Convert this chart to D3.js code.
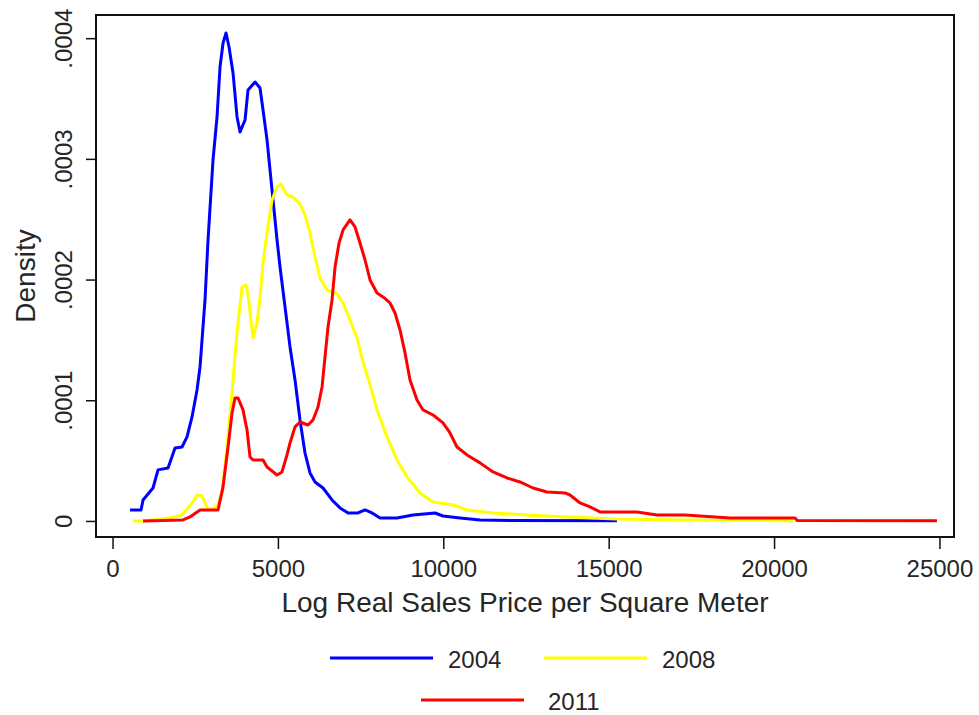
<!DOCTYPE html>
<html>

    <head>
        <script src="https://d3js.org/d3.v7.min.js"></script>
        <style>
            body { margin: 0; background: #fff; }
            text { font-family: "Liberation Sans", Arial, sans-serif; fill: #262626; }
        </style>
    </head>

    <body>
        <div id="chart-container"></div>

        <script>
            // Density values are read in units of .0001
            const UNIT = 0.0001;

            const years = [ "2004", "2008", "2011" ];
            const colors = [ "#0000ff", "#ffff00", "#ff0000" ];

            const price2004 = [ 529, 862, 922, 1224, 1375, 1678, 1889, 2101, 2252, 2403, 2554, 2645, 2706, 2796, 2887, 3038, 3159, 3250, 3341, 3431, 3522, 3643, 3764, 3855, 4006, 4096, 4308, 4459, 4550, 4671, 4761, 4852, 4973, 5064, 5200, 5366, 5517, 5668, 5819, 5970, 6122, 6364, 6636, 6878, 7120, 7422, 7634, 7845, 8087, 8601, 9084, 9749, 9991, 10505, 11110, 12107, 15250 ];
            const density2004 = [ 0.091, 0.091, 0.174, 0.273, 0.423, 0.439, 0.605, 0.613, 0.696, 0.862, 1.085, 1.276, 1.5, 1.831, 2.328, 2.991, 3.347, 3.761, 3.96, 4.043, 3.927, 3.712, 3.347, 3.223, 3.322, 3.571, 3.637, 3.587, 3.405, 3.157, 2.908, 2.659, 2.328, 2.104, 1.806, 1.442, 1.168, 0.837, 0.563, 0.398, 0.323, 0.273, 0.174, 0.108, 0.066, 0.066, 0.091, 0.066, 0.025, 0.025, 0.05, 0.066, 0.041, 0.025, 0.008, 0.003, 0.002 ];

            const price2008 = [ 620, 922, 1738, 2101, 2403, 2554, 2706, 2887, 3159, 3310, 3461, 3613, 3703, 3794, 3915, 4036, 4096, 4248, 4369, 4459, 4550, 4671, 4822, 4973, 5094, 5275, 5456, 5668, 5819, 5970, 6122, 6273, 6485, 6787, 6969, 7180, 7392, 7573, 7785, 7996, 8299, 8601, 8903, 9296, 9689, 10294, 10717, 11503, 12531, 13740, 15252, 17247, 20573 ];
            const density2008 = [ 0, 0, 0.025, 0.05, 0.149, 0.215, 0.207, 0.091, 0.116, 0.232, 0.613, 1.06, 1.375, 1.64, 1.939, 1.955, 1.872, 1.516, 1.64, 1.848, 2.138, 2.386, 2.659, 2.767, 2.792, 2.701, 2.684, 2.626, 2.535, 2.386, 2.187, 2.013, 1.914, 1.881, 1.806, 1.665, 1.516, 1.317, 1.127, 0.92, 0.696, 0.505, 0.365, 0.232, 0.157, 0.133, 0.091, 0.066, 0.05, 0.033, 0.017, 0.008, 0.002 ];

            const price2011 = [ 922, 2131, 2343, 2645, 3189, 3341, 3492, 3613, 3703, 3794, 3945, 4066, 4157, 4248, 4550, 4671, 4973, 5124, 5275, 5366, 5517, 5668, 5910, 6061, 6212, 6334, 6424, 6515, 6636, 6727, 6848, 6969, 7180, 7331, 7482, 7634, 7785, 7996, 8178, 8389, 8541, 8692, 8843, 8994, 9205, 9387, 9689, 9991, 10203, 10414, 10717, 11110, 11503, 11926, 12319, 12712, 13135, 13680, 13831, 14134, 14436, 14738, 15856, 16461, 17307, 18667, 20632, 20700, 24924 ];
            const density2011 = [ 0, 0.008, 0.033, 0.091, 0.091, 0.282, 0.613, 0.895, 1.019, 1.019, 0.92, 0.754, 0.53, 0.505, 0.505, 0.447, 0.381, 0.406, 0.547, 0.646, 0.779, 0.82, 0.795, 0.837, 0.944, 1.11, 1.359, 1.607, 1.831, 2.104, 2.303, 2.411, 2.494, 2.436, 2.303, 2.162, 1.997, 1.889, 1.856, 1.806, 1.723, 1.582, 1.392, 1.168, 1.002, 0.92, 0.878, 0.812, 0.729, 0.613, 0.547, 0.481, 0.406, 0.356, 0.323, 0.273, 0.24, 0.232, 0.215, 0.149, 0.116, 0.075, 0.075, 0.05, 0.05, 0.025, 0.025, 0.004, 0.002 ];

            const xTicks = [ 0, 5000, 10000, 15000, 20000, 25000 ];
            const yTicks = [ 0, 0.0001, 0.0002, 0.0003, 0.0004 ];
            const yTickLabels = [ "0", ".0001", ".0002", ".0003", ".0004" ];

            const xTitle = "Log Real Sales Price per Square Meter";
            const yTitle = "Density";

            // Chart dimensions
            const width = 979;
            const height = 715;
            const plot = { left: 96, top: 15, right: 954, bottom: 537 };

            const svg = d3.select( "#chart-container" )
                .append( "svg" )
                .attr( "width", width )
                .attr( "height", height );

            const xScale = d3.scaleLinear()
                .domain( [ -500, 25440 ] )
                .range( [ plot.left, plot.right ] );

            const yScale = d3.scaleLinear()
                .domain( [ -0.0000133, 0.0004192 ] )
                .range( [ plot.bottom, plot.top ] );

            // Series
            const series = [
                { year: years[ 0 ], color: colors[ 0 ], x: price2004, y: density2004 },
                { year: years[ 1 ], color: colors[ 1 ], x: price2008, y: density2008 },
                { year: years[ 2 ], color: colors[ 2 ], x: price2011, y: density2011 }
            ];

            const line = d3.line()
                .x( d => xScale( d[ 0 ] ) )
                .y( d => yScale( d[ 1 ] * UNIT ) );

            series.forEach( s =>
            {
                svg.append( "path" )
                    .datum( s.x.map( ( v, i ) => [ v, s.y[ i ] ] ) )
                    .attr( "fill", "none" )
                    .attr( "stroke", s.color )
                    .attr( "stroke-width", 3 )
                    .attr( "stroke-linejoin", "round" )
                    .attr( "d", line );
            } );

            // Frame
            svg.append( "rect" )
                .attr( "x", plot.left )
                .attr( "y", plot.top )
                .attr( "width", plot.right - plot.left )
                .attr( "height", plot.bottom - plot.top )
                .attr( "fill", "none" )
                .attr( "stroke", "#111" )
                .attr( "stroke-width", 2 );

            // X axis
            const xAxis = svg.append( "g" )
                .attr( "transform", `translate(0,${ plot.bottom })` )
                .call( d3.axisBottom( xScale ).tickValues( xTicks ).tickSize( 12 ).tickPadding( 11 ).tickFormat( d3.format( "d" ) ) );
            xAxis.select( ".domain" ).remove();
            xAxis.selectAll( "line" ).attr( "stroke", "#111" ).attr( "stroke-width", 1.5 );
            xAxis.selectAll( "text" ).style( "font-size", "24px" ).attr( "fill", "#262626" );

            // Y axis
            const yAxis = svg.append( "g" )
                .attr( "transform", `translate(${ plot.left },0)` )
                .call( d3.axisLeft( yScale ).tickValues( yTicks ).tickSize( 10 ).tickFormat( ( d, i ) => yTickLabels[ i ] ) );
            yAxis.select( ".domain" ).remove();
            yAxis.selectAll( "line" ).attr( "stroke", "#111" ).attr( "stroke-width", 1.5 );
            yAxis.selectAll( "text" )
                .style( "font-size", "24px" )
                .attr( "fill", "#262626" )
                .attr( "x", null )
                .attr( "dy", null )
                .attr( "text-anchor", "middle" )
                .attr( "transform", "translate(-24,0) rotate(-90)" );

            // Axis titles
            svg.append( "text" )
                .attr( "x", ( plot.left + plot.right ) / 2 )
                .attr( "y", 612 )
                .attr( "text-anchor", "middle" )
                .style( "font-size", "28px" )
                .text( xTitle );

            svg.append( "text" )
                .attr( "transform", `translate(35,${ ( plot.top + plot.bottom ) / 2 }) rotate(-90)` )
                .attr( "text-anchor", "middle" )
                .style( "font-size", "28px" )
                .text( yTitle );

            // Legend: key start, text start, row
            const legendPos = [ { x: 330, tx: 448, y: 658 }, { x: 544, tx: 662, y: 658 }, { x: 421, tx: 548, y: 700 } ];
            const legend = svg.append( "g" );
            series.forEach( ( s, i ) =>
            {
                const p = legendPos[ i ];
                legend.append( "line" )
                    .attr( "x1", p.x ).attr( "x2", p.x + 103 )
                    .attr( "y1", p.y ).attr( "y2", p.y )
                    .attr( "stroke", s.color )
                    .attr( "stroke-width", 3 );
                legend.append( "text" )
                    .attr( "x", p.tx )
                    .attr( "y", p.y + 10 )
                    .style( "font-size", "24px" )
                    .text( s.year );
            } );
        </script>
    </body>

</html>
